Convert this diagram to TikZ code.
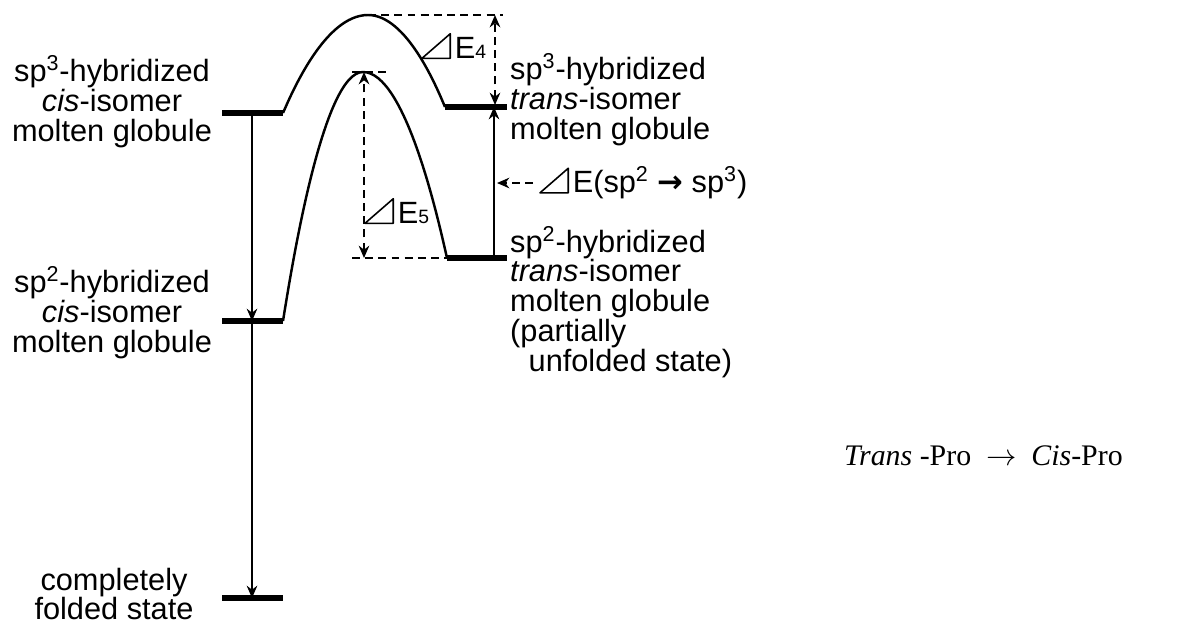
\documentclass[tikz,border=0pt]{standalone}
\usepackage{fontspec}
\setmainfont{Liberation Sans}
\newfontfamily\profont{Liberation Serif}
\newfontfamily\trifont{DejaVu Sans}
\usetikzlibrary{arrows.meta}
\newcommand{\dE}{\tikz[baseline=0pt,x=1em,y=1em,line width=0.9pt,line join=round,solid]
  \draw (0,0) -- (0.92,0) -- (0.92,0.8) -- cycle;\kern0.12em E}
\newcommand{\smallsub}[1]{{\fontsize{11}{11}\selectfont #1}}
\begin{document}
\begin{tikzpicture}[x=0.02cm,y=-0.02cm,
    level/.style={line width=3.2pt},
    barrier/.style={line width=1.4pt},
    jump/.style={line width=1pt,-{Stealth[length=7pt,width=6pt]}},
    gap/.style={line width=1.2pt,dash pattern=on 4.5pt off 3pt},
    gaparrow/.style={gap,{Stealth[length=7pt,width=6pt]}-{Stealth[length=7pt,width=6pt]}},
    lbl/.style={font=\fontsize{17.5}{17}\selectfont,align=center},
    rlbl/.style={lbl,align=left,anchor=west}]

  \useasboundingbox (0,0) rectangle (1181,626);

  % Energy levels
  \coordinate (cis3L) at (222,113); \coordinate (cis3R) at (283,113);
  \coordinate (cis2L) at (222,321); \coordinate (cis2R) at (283,321);
  \coordinate (foldL) at (222,598); \coordinate (foldR) at (283,598);
  \coordinate (tr3L) at (445,107);  \coordinate (tr3R) at (507,107);
  \coordinate (tr2L) at (447,258);  \coordinate (tr2R) at (507,258);
  \draw[level] (cis3L) -- (cis3R);
  \draw[level] (cis2L) -- (cis2R);
  \draw[level] (foldL) -- (foldR);
  \draw[level] (tr3L) -- (tr3R);
  \draw[level] (tr2L) -- (tr2R);

  % Barriers
  \coordinate (topA) at (368,15);
  \coordinate (topB) at (363,72);
  \draw[barrier] (cis3R) parabola bend (topA) (tr3L);
  \draw[barrier] (cis2R) parabola bend (topB) (tr2L);

  % Left transitions
  \coordinate (c3) at (252,113);
  \coordinate (c2) at (252,321);
  \coordinate (c0) at (252,598);
  \draw[jump] (c3) -- (c2);
  \draw[jump] (c2) -- (c0);

  % Right transition sp2 -> sp3
  \coordinate (t2) at (494,258);
  \coordinate (t3) at (494,107);
  \draw[jump] (t2) -- (t3);

  % Delta E4
  \coordinate (e4top) at (495,15);
  \coordinate (e4bot) at (495,105);
  \draw[gap] (topA) -- (503,15);
  \draw[gaparrow] (e4bot) -- (e4top);
  \node[lbl,anchor=west] (dE4) at (415,46) {\dE\smallsub{4}};

  % Delta E5
  \coordinate (e5top) at (364,72);
  \coordinate (e5bot) at (364,258);
  \draw[gap] (352,72) -- (386,72);
  \draw[gap] (352,258) -- (tr2L);
  \draw[gaparrow] (e5bot) -- (e5top);
  \node[lbl,anchor=west] (dE5) at (358,211) {\dE\smallsub{5}};

  % Delta E(sp2 -> sp3)
  \node[lbl,anchor=west] (dEhyb) at (533,183)
    {\dE(sp\textsuperscript{2} {\trifont\bfseries →} sp\textsuperscript{3})};
  \coordinate (hybtip) at (497,183);
  \draw[gap,-{Stealth[length=7pt,width=6pt]}] (dEhyb.west) -- (hybtip);

  % Left labels
  \node[lbl] (cis3) at (112,102)
    {sp\textsuperscript{3}-hybridized\\\textit{cis}-isomer\\molten globule};
  \node[lbl] (cis2) at (112,313)
    {sp\textsuperscript{2}-hybridized\\\textit{cis}-isomer\\molten globule};
  \node[lbl] (fold) at (114,594) {completely\\folded state};

  % Right labels
  \node[rlbl] (tr3) at (504,100)
    {sp\textsuperscript{3}-hybridized\\\textit{trans}-isomer\\molten globule};
  \node[rlbl] (tr2) at (504,302)
    {sp\textsuperscript{2}-hybridized\\\textit{trans}-isomer\\molten globule\\(partially\\\hspace*{0.6em}unfolded state)};

  % Reaction
  \node[font=\profont\fontsize{17}{17}\selectfont,anchor=west] (rxn) at (838,456)
    {\textit{Trans} -Pro \ $\rightarrow$ \ \textit{Cis}-Pro};
\end{tikzpicture}
\end{document}
